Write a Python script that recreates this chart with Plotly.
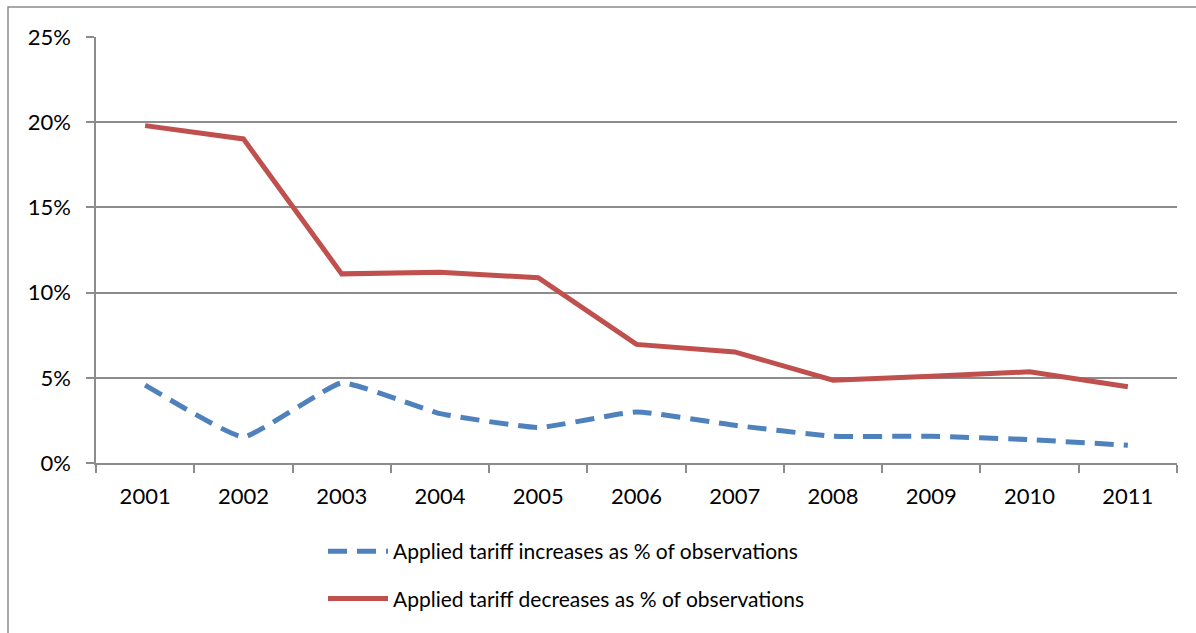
import plotly.graph_objects as go

years = ["2001", "2002", "2003", "2004", "2005", "2006", "2007", "2008", "2009", "2010", "2011"]
increases = [0.0457, 0.0153, 0.047, 0.029, 0.0208, 0.030, 0.0221, 0.0157, 0.0157, 0.0137, 0.0104]
decreases = [0.198, 0.1902, 0.111, 0.1119, 0.1087, 0.0696, 0.0652, 0.0486, 0.0509, 0.0535, 0.0447]
name_inc = "Applied tariff increases as % of observations"
name_dec = "Applied tariff decreases as % of observations"

W, H = 1196, 633
L, R, T, B = 96, 1177, 37, 463

FONT = "Lato"
GRID = "#8c8c8c"

fig = go.Figure()
fig.add_trace(go.Scatter(
    x=years, y=increases, mode="lines", name=name_inc, legendgroup="a",
    line=dict(color="#4F81BD", width=5, dash="19px,10px", shape="spline", smoothing=0.35),
))
fig.add_trace(go.Scatter(
    x=years, y=decreases, mode="lines", name=name_dec, legendgroup="b",
    line=dict(color="#C0504D", width=5),
))

def px(x):
    return (x - L) / (R - L)

def py(y):
    return (B - y) / (B - T)

fig.add_shape(type="rect", xref="paper", yref="paper",
              x0=px(8), x1=px(1205), y0=py(7), y1=py(645),
              line=dict(color="#8c8c8c", width=1.5), layer="below")

fig.update_layout(
    width=W, height=H,
    margin=dict(l=L, r=W - R, t=T, b=H - B),
    paper_bgcolor="white", plot_bgcolor="white",
    font=dict(family=FONT, size=22, color="black"),
    showlegend=True,
    legend=dict(
        x=px(323), xanchor="left", y=py(531), yanchor="top",
        orientation="v", itemwidth=60, tracegroupgap=17,
        font=dict(family=FONT, size=21, color="black"),
        bgcolor="rgba(0,0,0,0)",
    ),
    xaxis=dict(
        type="category", range=[-0.5, 10.5],
        showline=True, linecolor=GRID, linewidth=1.5,
        ticks="outside", tickson="boundaries", ticklen=8, tickcolor=GRID, tickwidth=1.5,
        showgrid=False, ticklabelstandoff=13,
        tickfont=dict(family=FONT, size=22, color="black"),
    ),
    yaxis=dict(
        range=[0, 0.25], dtick=0.05, tickformat=".0%",
        showline=True, linecolor=GRID, linewidth=1.5,
        ticks="outside", ticklen=8, tickcolor=GRID, tickwidth=1.5,
        showgrid=True, gridcolor=GRID, gridwidth=1.5, zeroline=False,
        ticklabelstandoff=11,
        tickfont=dict(family=FONT, size=22, color="black"),
    ),
)

fig.write_html("out.html")
